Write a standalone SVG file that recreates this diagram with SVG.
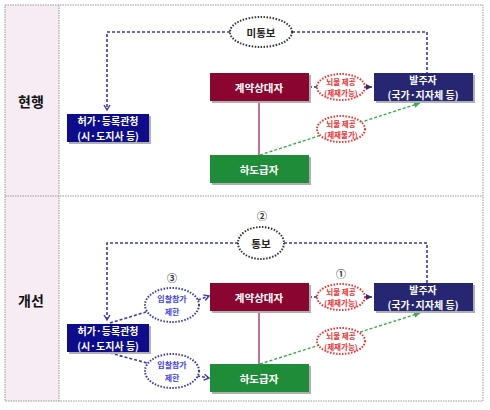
<svg xmlns="http://www.w3.org/2000/svg" width="490" height="410" viewBox="0 0 490 410">
<style>
text{font-family:"Noto Sans CJK KR","Noto Sans",sans-serif;text-anchor:middle;dominant-baseline:central}
.lab{font-size:14px;font-weight:bold;fill:#111}
.bt{font-size:10.5px;font-weight:bold;fill:#fff}
.bt2{font-size:10px;font-weight:bold;fill:#fff}
.sh{fill:#b0b0b0}
.ell{fill:#fff;stroke-width:2;stroke-dasharray:1.5 1.5}
.blk{stroke:#333}
.red{stroke:#f03030}
.blu{stroke:#3a3aa0}
.rt{font-size:7.5px;font-weight:bold;fill:#e83030}
.bl{font-size:8px;font-weight:bold;fill:#4444ee}
.et{font-size:10.5px;font-weight:bold;fill:#222}
.num{font-size:10px;font-weight:bold;fill:#333}
.dl{fill:none;stroke:#3a3aaa;stroke-width:1.6;stroke-dasharray:3 2}
.nv{fill:none;stroke:#2a2a80;stroke-width:1.6;stroke-dasharray:3 2}
.gr{fill:none;stroke:#3cab4a;stroke-width:1.4;stroke-dasharray:3 2}
.vl{stroke:#b05078;stroke-width:1.6}
</style>
<defs>
<marker id="ab" markerWidth="8" markerHeight="8" refX="6" refY="4" orient="auto" markerUnits="userSpaceOnUse"><path d="M1,1 L6,4 L1,7" fill="none" stroke="#3a3aaa" stroke-width="1.4"/></marker>
<marker id="an" markerWidth="8" markerHeight="8" refX="6" refY="4" orient="auto" markerUnits="userSpaceOnUse"><path d="M0,1 L6,4 L0,7 Z" fill="#2a2a80"/></marker>
<marker id="ag" markerWidth="8" markerHeight="8" refX="6" refY="4" orient="auto" markerUnits="userSpaceOnUse"><path d="M0,1 L6,4 L0,7 Z" fill="#3cab4a"/></marker>
</defs>
<g id="frame">
<rect x="5" y="5" width="54" height="396" fill="#f7ecf4"/>
<rect x="5" y="5" width="478" height="396" fill="none" stroke="#999" stroke-dasharray="1.5 1"/>
<line x1="5" y1="196" x2="483" y2="196" stroke="#999" stroke-dasharray="1.5 1"/>
<line x1="59" y1="5" x2="59" y2="401" stroke="#999" stroke-dasharray="1.5 1"/>
<text class="lab" x="31" y="101">현행</text>
<text class="lab" x="31" y="300">개선</text>
</g>
<g id="connectors">
<path class="dl" d="M230,32 H107 V110" marker-end="url(#ab)"/>
<path class="dl" d="M292,32 H427 V73"/>
<line class="vl" x1="259" y1="101" x2="259" y2="155"/>
<line class="nv" x1="309" y1="87" x2="372" y2="87" marker-end="url(#an)"/>
<line class="gr" x1="260" y1="155" x2="420" y2="103" marker-end="url(#ag)"/>
<path class="dl" d="M238,243 H107 V320" marker-end="url(#ab)"/>
<path class="dl" d="M284,243 H427 V283"/>
<line class="vl" x1="259" y1="312" x2="259" y2="364"/>
<line class="nv" x1="309" y1="297" x2="372" y2="297" marker-end="url(#an)"/>
<line class="gr" x1="260" y1="364" x2="420" y2="313" marker-end="url(#ag)"/>
<line class="dl" x1="110" y1="323" x2="146" y2="312"/>
<line class="dl" x1="198" y1="300" x2="209" y2="296" marker-end="url(#ab)"/>
<line class="dl" x1="110" y1="353" x2="147" y2="363"/>
<line class="dl" x1="197" y1="376" x2="209" y2="378" marker-end="url(#ab)"/>
</g>
<g id="n_mitongbo"><ellipse class="ell blk" cx="261" cy="32" rx="31" ry="15"/><text class="et" x="261" y="32">미통보</text></g>
<g id="n_permit1"><rect class="sh" x="69" y="116" width="82" height="28"/><rect x="67" y="114" width="82" height="28" fill="#0c0c8c"/><text class="bt2" x="108" y="120.5">허가·등록관청</text><text class="bt2" x="108" y="135.5">(시·도지사 등)</text></g>
<g id="n_contract1"><rect class="sh" x="212" y="75" width="99" height="28"/><rect x="210" y="73" width="99" height="28" fill="#8a0630"/><text class="bt" x="259" y="87">계약상대자</text></g>
<g id="n_sub1"><rect class="sh" x="212" y="157" width="99" height="28"/><rect x="210" y="155" width="99" height="28" fill="#1f8c3a"/><text class="bt" x="259" y="169">하도급자</text></g>
<g id="n_client1"><rect class="sh" x="376" y="75" width="99" height="28"/><rect x="374" y="73" width="99" height="28" fill="#262672"/><text class="bt2" x="423" y="79.5">발주자</text><text class="bt2" x="423" y="94.5">(국가·지자체 등)</text></g>
<g id="n_bribe1"><ellipse class="ell red" cx="341" cy="87" rx="24" ry="13"/><text class="rt" x="341" y="81">뇌물 제공</text><text class="rt" x="341" y="92.5">(제재가능)</text></g>
<g id="n_bribe2"><ellipse class="ell red" cx="341" cy="129" rx="24" ry="13"/><text class="rt" x="341" y="123">뇌물 제공</text><text class="rt" x="341" y="134.5">(제재불가)</text></g>
<g id="n_num2"><text class="num" x="262" y="215">②</text></g>
<g id="n_tongbo"><ellipse class="ell blk" cx="261" cy="243" rx="23" ry="16"/><text class="et" x="261" y="243">통보</text></g>
<g id="n_permit2"><rect class="sh" x="69" y="326" width="82" height="28"/><rect x="67" y="324" width="82" height="28" fill="#0c0c8c"/><text class="bt2" x="108" y="330.5">허가·등록관청</text><text class="bt2" x="108" y="345.5">(시·도지사 등)</text></g>
<g id="n_contract2"><rect class="sh" x="212" y="285" width="99" height="28"/><rect x="210" y="283" width="99" height="28" fill="#8a0630"/><text class="bt" x="259" y="297">계약상대자</text></g>
<g id="n_sub2"><rect class="sh" x="212" y="366" width="99" height="28"/><rect x="210" y="364" width="99" height="28" fill="#1f8c3a"/><text class="bt" x="259" y="378">하도급자</text></g>
<g id="n_client2"><rect class="sh" x="376" y="285" width="99" height="28"/><rect x="374" y="283" width="99" height="28" fill="#262672"/><text class="bt2" x="423" y="289.5">발주자</text><text class="bt2" x="423" y="304.5">(국가·지자체 등)</text></g>
<g id="n_num1"><text class="num" x="341" y="273">①</text></g>
<g id="n_bribe3"><ellipse class="ell red" cx="341" cy="297" rx="24" ry="13"/><text class="rt" x="341" y="291">뇌물 제공</text><text class="rt" x="341" y="302.5">(제재가능)</text></g>
<g id="n_bribe4"><ellipse class="ell red" cx="341" cy="341" rx="24" ry="13"/><text class="rt" x="341" y="335">뇌물 제공</text><text class="rt" x="341" y="346.5">(제재가능)</text></g>
<g id="n_num3"><text class="num" x="172" y="277">③</text></g>
<g id="n_limit1"><ellipse class="ell blu" cx="172" cy="305" rx="27" ry="17"/><text class="bl" x="172" y="298.5">입찰참가</text><text class="bl" x="172" y="311.5">제한</text></g>
<g id="n_limit2"><ellipse class="ell blu" cx="172" cy="371" rx="27" ry="17"/><text class="bl" x="172" y="364.5">입찰참가</text><text class="bl" x="172" y="377.5">제한</text></g>
</svg>
